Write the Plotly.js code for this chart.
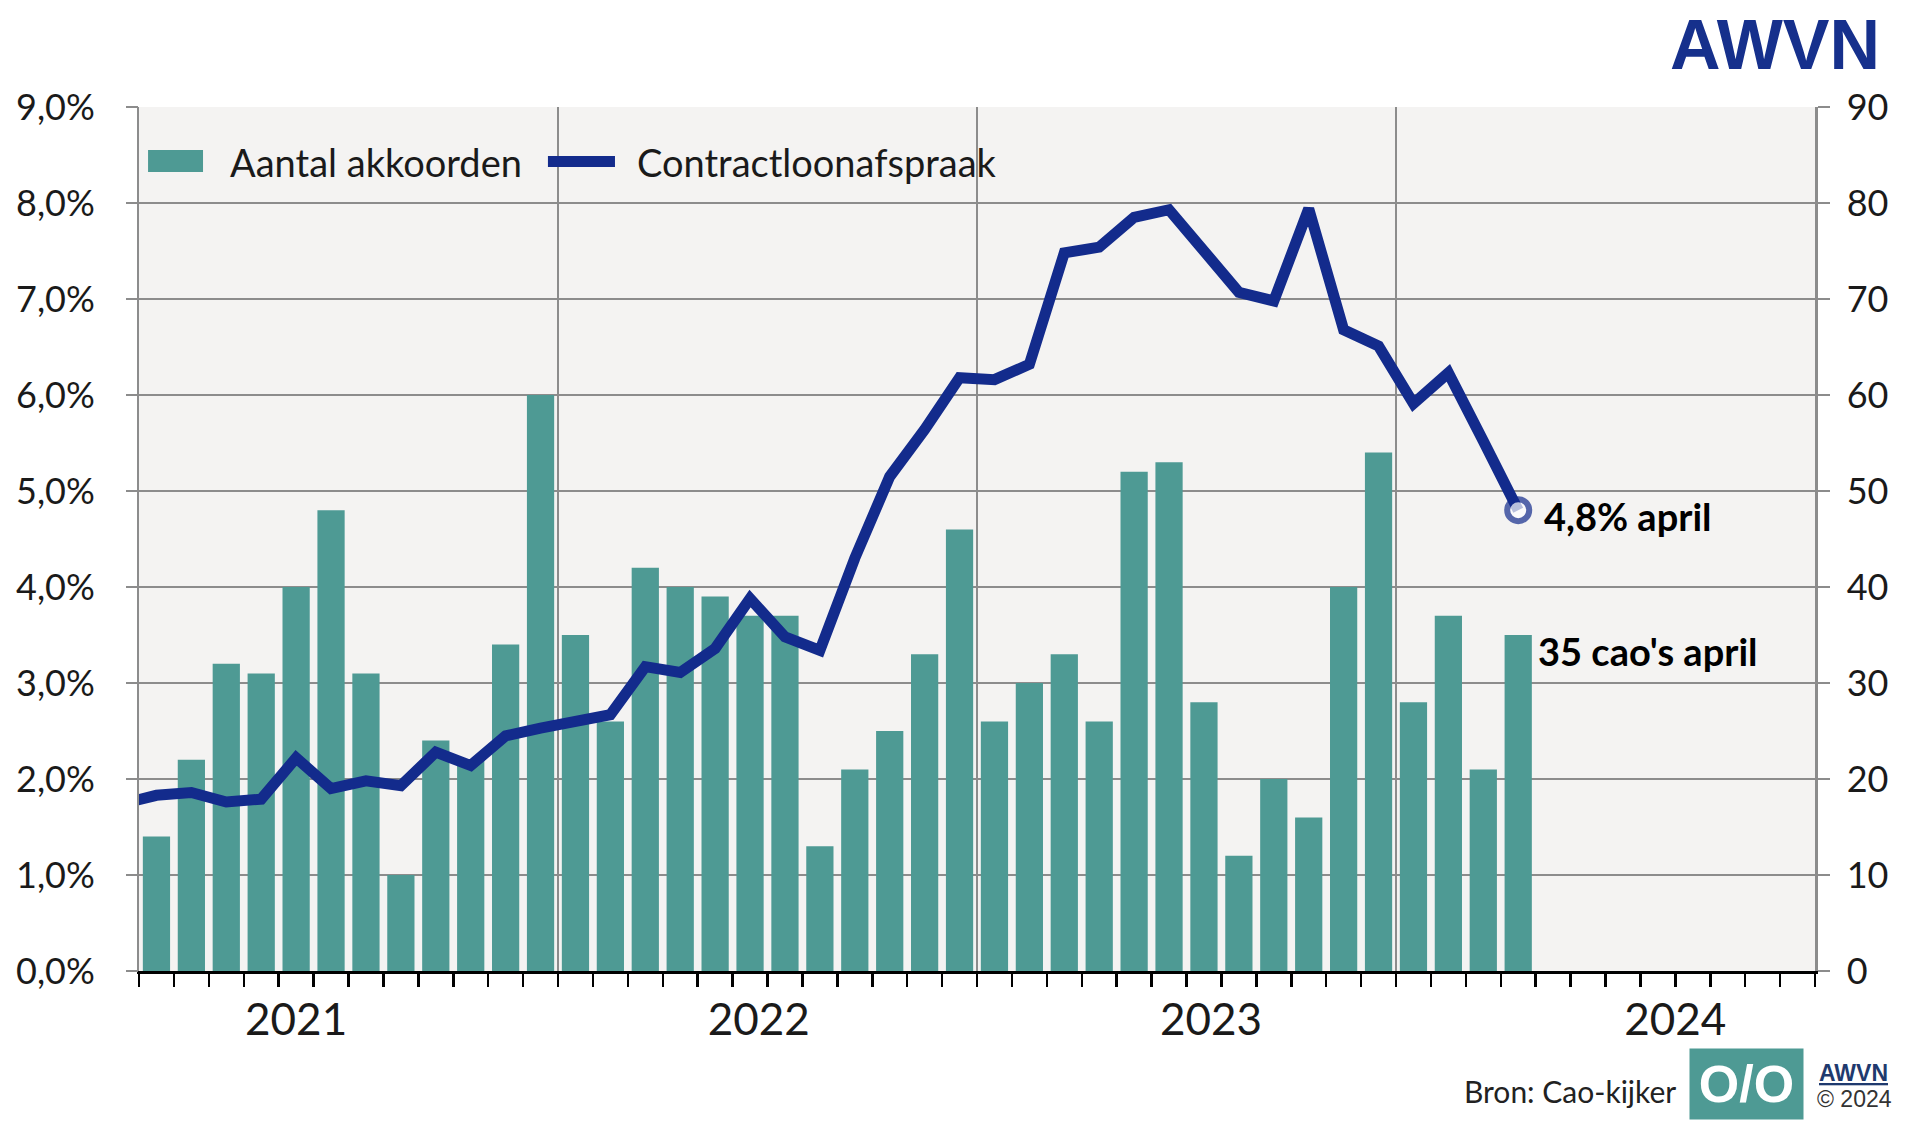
<!DOCTYPE html>
<html>
<head>
<meta charset="utf-8">
<script src="https://cdn.plot.ly/plotly-3.0.1.min.js"></script>
<style>
  html, body { margin: 0; padding: 0; background: #fff; }
  #myDiv { width: 1920px; height: 1131px; }
</style>
</head>
<body>
<div id="myDiv"></div>
<script>
// maanden jan 2021 t/m apr 2024
var maanden = [
  'jan 2021', 'feb 2021', 'mrt 2021', 'apr 2021', 'mei 2021', 'jun 2021',
  'jul 2021', 'aug 2021', 'sep 2021', 'okt 2021', 'nov 2021', 'dec 2021',
  'jan 2022', 'feb 2022', 'mrt 2022', 'apr 2022', 'mei 2022', 'jun 2022',
  'jul 2022', 'aug 2022', 'sep 2022', 'okt 2022', 'nov 2022', 'dec 2022',
  'jan 2023', 'feb 2023', 'mrt 2023', 'apr 2023', 'mei 2023', 'jun 2023',
  'jul 2023', 'aug 2023', 'sep 2023', 'okt 2023', 'nov 2023', 'dec 2023',
  'jan 2024', 'feb 2024', 'mrt 2024', 'apr 2024'
];

// aantal afgesloten cao's per maand (rechter as)
var akkoorden = [
  14, 22, 32, 31, 40, 48, 31, 10, 24, 22, 34, 60,
  35, 26, 42, 40, 39, 37, 37, 13, 21, 25, 33, 46,
  26, 30, 33, 26, 52, 53, 28, 12, 20, 16, 40, 54,
  28, 37, 21, 35
];

// contractloonafspraak in %, dec 2020 t/m apr 2024 (linker as)
var loonMaanden = ['dec 2020'].concat(maanden);
var loonafspraak = [
  1.74,
  1.83, 1.86, 1.76, 1.79, 2.22, 1.90, 1.98, 1.93, 2.28, 2.14, 2.45, 2.53,
  2.60, 2.67, 3.17, 3.11, 3.36, 3.88, 3.48, 3.34, 4.30, 5.15, 5.64, 6.18,
  6.16, 6.32, 7.48, 7.54, 7.85, 7.93, 7.50, 7.07, 6.98, 7.94, 6.68, 6.51,
  5.91, 6.23, 5.52, 4.80
];

var jaren = ['2021', '2022', '2023', '2024'];
var jaarPos = [4, 17.25, 30.2, 43.5];

var teal = '#4E9A94';
var navy = '#132B8C';
var grid = '#8C8C8C';
var font = 'Lato, "Open Sans", sans-serif';

var xBar = maanden.map(function (m, i) { return i; });
var xLoon = loonMaanden.map(function (m, i) { return i - 1; });
var nLoon = loonafspraak.length;
var laatste = loonafspraak[nLoon - 1];

var trace1 = {
  type: 'bar',
  name: 'Aantal akkoorden',
  x: xBar,
  y: akkoorden,
  hovertext: maanden,
  textposition: 'none',
  xaxis: 'x',
  yaxis: 'y',
  marker: { color: teal },
  hoverinfo: 'text+y'
};

var trace2 = {
  type: 'scatter',
  mode: 'lines+markers',
  name: 'Contractloonafspraak',
  x: xLoon,
  y: loonafspraak,
  hovertext: loonMaanden,
  xaxis: 'x2',
  yaxis: 'y2',
  line: { color: navy, width: 11 },
  marker: {
    symbol: 'circle',
    color: '#ffffff',
    size: loonafspraak.map(function (v, i) { return i === nLoon - 1 ? 22 : 0; }),
    line: { color: navy, width: 6 }
  },
  hoverinfo: 'text+y'
};

var data = [trace1, trace2];

// legenda als tekst + sleutels, zodat de sleutels zo groot zijn als in het origineel
var legendY = 0.9363;

var layout = {
  width: 1920,
  height: 1131,
  margin: { l: 139, r: 105, t: 107, b: 160 },
  paper_bgcolor: '#ffffff',
  plot_bgcolor: '#F4F3F2',
  separators: ',.',
  font: { family: font, size: 36, color: '#1a1a1a' },
  bargap: 0.22,
  showlegend: false,
  xaxis: {
    range: [-0.5, 47.5],
    tickmode: 'array',
    tickvals: [-0.5, 11.5, 23.5, 35.5, 47.5],
    showticklabels: false,
    ticks: 'outside', ticklen: 13, tickwidth: 2.5, tickcolor: '#000',
    showgrid: true, gridcolor: grid, gridwidth: 2.5,
    showline: true, linecolor: '#000', linewidth: 2.5,
    zeroline: false,
    minor: {
      tickmode: 'linear', tick0: -0.5, dtick: 1,
      ticks: 'outside', ticklen: 13, tickwidth: 2.5, tickcolor: '#000',
      showgrid: false
    },
    fixedrange: true
  },
  xaxis2: {
    overlaying: 'x',
    anchor: 'y2',
    side: 'bottom',
    range: [-0.5, 47.5],
    tickmode: 'array',
    tickvals: jaarPos,
    ticktext: jaren,
    ticks: '',
    ticklabelstandoff: 19,
    tickfont: { family: font, size: 44, color: '#1a1a1a' },
    showgrid: false, showline: false, zeroline: false,
    fixedrange: true
  },
  yaxis: {
    side: 'right',
    range: [0, 90],
    dtick: 10,
    ticks: 'outside', ticklen: 12, tickwidth: 2.5, tickcolor: grid,
    ticklabelstandoff: 10,
    showgrid: true, gridcolor: grid, gridwidth: 2.5,
    showline: true, mirror: true, linecolor: grid, linewidth: 2.5,
    zeroline: false,
    tickfont: { family: font, size: 36, color: '#1a1a1a' },
    fixedrange: true
  },
  yaxis2: {
    overlaying: 'y',
    side: 'left',
    range: [0, 9],
    dtick: 1,
    tickformat: '.1f',
    ticksuffix: '%',
    ticks: 'outside', ticklen: 12, tickwidth: 2.5, tickcolor: grid,
    ticklabelstandoff: 24,
    showgrid: false, showline: false, zeroline: false,
    tickfont: { family: font, size: 36, color: '#1a1a1a' },
    fixedrange: true
  },
  shapes: [
    {
      type: 'rect', xref: 'paper', yref: 'paper',
      x0: 0.0054, x1: 0.0382, y0: 0.9248, y1: 0.9502,
      fillcolor: teal, line: { width: 0 }
    },
    {
      type: 'rect', xref: 'paper', yref: 'paper',
      x0: 0.2440, x1: 0.2840, y0: 0.9305, y1: 0.9433,
      fillcolor: navy, line: { width: 0 }
    }
  ],
  annotations: [
    {
      xref: 'paper', yref: 'paper',
      x: 0.0531, y: legendY,
      text: 'Aantal akkoorden',
      showarrow: false, xanchor: 'left', yanchor: 'middle',
      font: { family: font, size: 38, color: '#1a1a1a' }
    },
    {
      xref: 'paper', yref: 'paper',
      x: 0.2959, y: legendY,
      text: 'Contractloonafspraak',
      showarrow: false, xanchor: 'left', yanchor: 'middle',
      font: { family: font, size: 38, color: '#1a1a1a' }
    },
    {
      xref: 'x2', yref: 'y2',
      x: xLoon[nLoon - 1], y: laatste,
      text: '<b>' + laatste.toFixed(1).replace('.', ',') + '% april</b>',
      showarrow: false, xanchor: 'left', yanchor: 'middle',
      xshift: 24, yshift: -6,
      font: { family: font, size: 38, color: '#000' }
    },
    {
      xref: 'x', yref: 'y',
      x: xBar[xBar.length - 1], y: akkoorden[akkoorden.length - 1],
      text: '<b>' + akkoorden[akkoorden.length - 1] + " cao's april</b>",
      showarrow: false, xanchor: 'left', yanchor: 'middle',
      xshift: 18, yshift: -16,
      font: { family: font, size: 38, color: '#000' }
    },
    {
      xref: 'paper', yref: 'paper',
      x: 0.976, y: 1.072,
      text: '<b>AWVN</b>',
      showarrow: false, xanchor: 'center', yanchor: 'middle',
      font: { family: '"Liberation Sans", Arial, sans-serif', size: 70, color: '#16308C' }
    },
    {
      xref: 'paper', yref: 'paper',
      x: 0.7896, y: -0.139,
      text: 'Bron: Cao-kijker',
      showarrow: false, xanchor: 'left', yanchor: 'middle',
      font: { family: font, size: 30, color: '#222' }
    },
    {
      xref: 'paper', yref: 'paper',
      x: 0.9594, y: -0.131,
      text: '<b>O/O</b>',
      showarrow: false, xanchor: 'center', yanchor: 'middle',
      width: 111, height: 68, bgcolor: teal,
      font: { family: '"Liberation Sans", sans-serif', size: 52, color: '#fff' }
    },
    {
      xref: 'paper', yref: 'paper',
      x: 1.0012, y: -0.118,
      text: '<b><u>AWVN</u></b>',
      showarrow: false, xanchor: 'left', yanchor: 'middle',
      font: { family: '"Liberation Sans", sans-serif', size: 23, color: '#1F3A6E' }
    },
    {
      xref: 'paper', yref: 'paper',
      x: 1.0, y: -0.148,
      text: '© 2024',
      showarrow: false, xanchor: 'left', yanchor: 'middle',
      font: { family: '"Liberation Sans", sans-serif', size: 23, color: '#333' }
    }
  ]
};

Plotly.newPlot('myDiv', data, layout, { displayModeBar: false, staticPlot: true });
</script>
</body>
</html>
